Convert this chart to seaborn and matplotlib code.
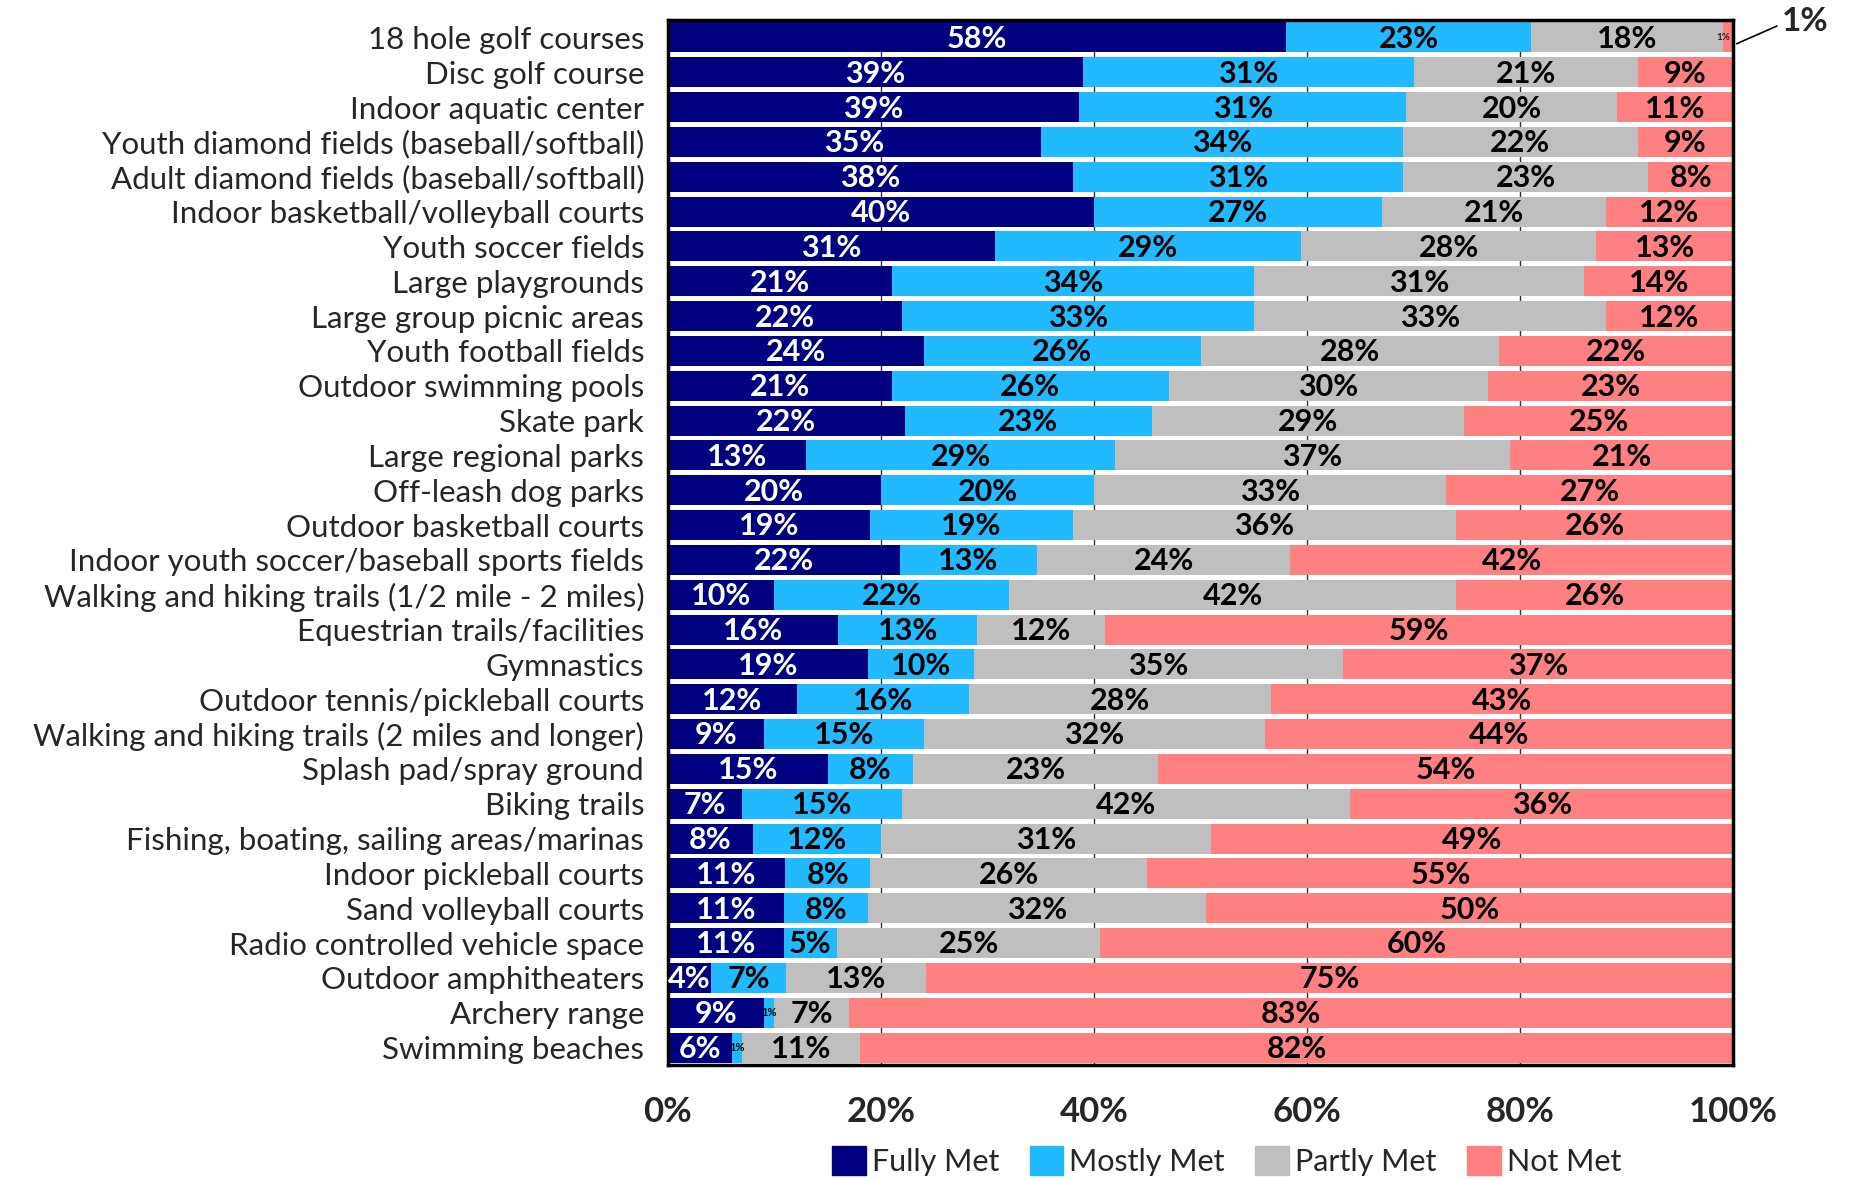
"""
Facility needs met - 100% stacked horizontal bars.
"""

import pandas as pd
import matplotlib
matplotlib.use("Agg")
import matplotlib.pyplot as plt
import matplotlib.patches as mpatches
import seaborn as sns

facilities = [
    "18 hole golf courses",
    "Disc golf course",
    "Indoor aquatic center",
    "Youth diamond fields (baseball/softball)",
    "Adult diamond fields (baseball/softball)",
    "Indoor basketball/volleyball courts",
    "Youth soccer fields",
    "Large playgrounds",
    "Large group picnic areas",
    "Youth football fields",
    "Outdoor swimming pools",
    "Skate park",
    "Large regional parks",
    "Off-leash dog parks",
    "Outdoor basketball courts",
    "Indoor youth soccer/baseball sports fields",
    "Walking and hiking trails (1/2 mile - 2 miles)",
    "Equestrian trails/facilities",
    "Gymnastics",
    "Outdoor tennis/pickleball courts",
    "Walking and hiking trails (2 miles and longer)",
    "Splash pad/spray ground",
    "Biking trails",
    "Fishing, boating, sailing areas/marinas",
    "Indoor pickleball courts",
    "Sand volleyball courts",
    "Radio controlled vehicle space",
    "Outdoor amphitheaters",
    "Archery range",
    "Swimming beaches",
]

fully_met = [58, 39, 39, 35, 38, 40, 31, 21, 22, 24, 21, 22, 13, 20, 19,
             22, 10, 16, 19, 12, 9, 15, 7, 8, 11, 11, 11, 4, 9, 6]
mostly_met = [23, 31, 31, 34, 31, 27, 29, 34, 33, 26, 26, 23, 29, 20, 19,
              13, 22, 13, 10, 16, 15, 8, 15, 12, 8, 8, 5, 7, 1, 1]
partly_met = [18, 21, 20, 22, 23, 21, 28, 31, 33, 28, 30, 29, 37, 33, 36,
              24, 42, 12, 35, 28, 32, 23, 42, 31, 26, 32, 25, 13, 7, 11]
not_met = [1, 9, 11, 9, 8, 12, 13, 14, 12, 22, 23, 25, 21, 27, 26,
           42, 26, 59, 37, 43, 44, 54, 36, 49, 55, 50, 60, 75, 83, 82]

series_names = ["Fully Met", "Mostly Met", "Partly Met", "Not Met"]
series_colors = ["#000080", "#21B9FF", "#BFBFBF", "#FF8080"]
xtick_labels = ["0%", "20%", "40%", "60%", "80%", "100%"]

sns.set_theme(style="white")
plt.rcParams["font.family"] = ["Lato", "DejaVu Sans"]

df = pd.DataFrame({
    "facility": facilities,
    "Fully Met": fully_met,
    "Mostly Met": mostly_met,
    "Partly Met": partly_met,
    "Not Met": not_met,
})
# normalise each row to 100 like a 100% stacked chart
totals = df[series_names].sum(axis=1)
shares = df[series_names].div(totals, axis=0) * 100
cum = shares.cumsum(axis=1)
starts = cum - shares

fig = plt.figure(figsize=(18.5, 11.8), dpi=100)
ax = fig.add_axes([0.361, 0.0975, 0.576, 0.8855])

# draw cumulative layers from the outermost inwards
for name, color in reversed(list(zip(series_names, series_colors))):
    layer = pd.DataFrame({"facility": facilities, "value": cum[name]})
    sns.barplot(data=layer, x="value", y="facility", order=facilities,
                orient="h", color=color, saturation=1, width=0.86,
                edgecolor="none", linewidth=0, ax=ax, zorder=2)

# segment labels
for i in range(len(facilities)):
    for j, name in enumerate(series_names):
        raw = df.loc[i, name]
        w = shares.loc[i, name]
        xc = starts.loc[i, name] + w / 2
        txt_color = "white" if j == 0 else "black"
        if raw <= 1:
            if i == 0:
                continue
            ax.text(xc, i, f"{raw}%", ha="center", va="center",
                    fontsize=8, fontweight="bold", color=txt_color, zorder=4)
        else:
            ax.text(xc, i + 0.04, f"{raw}%", ha="center", va="center",
                    fontsize=22, fontweight="bold", color=txt_color, zorder=4)

# tiny 1% on the first row plus the callout
ax.text(starts.loc[0, "Not Met"] + shares.loc[0, "Not Met"] / 2 - 0.5, 0, "1%",
        ha="center", va="center", fontsize=7, fontweight="bold", zorder=4)
ax.annotate("1%", xy=(100.3, 0.18), xytext=(106.7, -0.47),
            fontsize=24, fontweight="bold", ha="center", va="center",
            annotation_clip=False,
            arrowprops=dict(arrowstyle="-", color="black", lw=1.2,
                            relpos=(0, 0.4), shrinkA=1, shrinkB=0))

ax.set_xlim(0, 100)
ax.set_ylim(len(facilities) - 0.5, -0.5)
ax.set_xticks([0, 20, 40, 60, 80, 100])
ax.set_xticklabels(xtick_labels, fontsize=25, fontweight="bold")
ax.tick_params(axis="x", length=0, pad=22)
ax.tick_params(axis="y", length=0, pad=17, labelsize=22.5)
ax.set_xlabel("")
ax.set_ylabel("")
ax.xaxis.grid(True, color="#333333", linewidth=1.0)
ax.yaxis.grid(False)
ax.set_axisbelow(True)
for spine in ax.spines.values():
    spine.set_visible(True)
    spine.set_color("black")
    spine.set_linewidth(2.5)

handles = [mpatches.Patch(color=c, label=n) for n, c in zip(series_names, series_colors)]
fig.legend(handles=handles, loc="center", bbox_to_anchor=(0.663, 0.016),
           ncol=4, frameon=False, fontsize=22, handlelength=1.1,
           handleheight=1.1, handletextpad=0.2, columnspacing=1.0)

plt.savefig("out.png", dpi=100)
